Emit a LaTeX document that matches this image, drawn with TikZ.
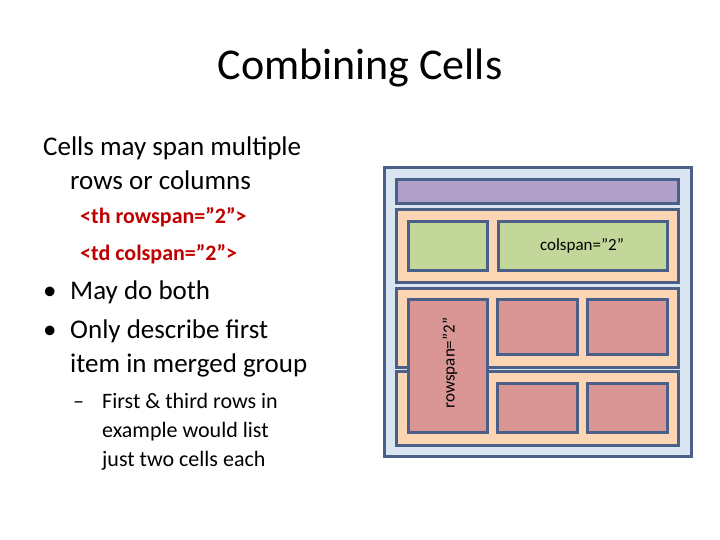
\documentclass[tikz,border=0pt]{standalone}
\usepackage{fontspec}
\setmainfont{Carlito}
\newcommand{\qq}{\symbol{34}}
\begin{document}
\begin{tikzpicture}[x=1pt,y=-1pt,
  cellb/.style={draw=bord,line width=3pt},
  txt/.style={anchor=base west,inner sep=0pt}]
\definecolor{bord}{HTML}{4A6088}
\definecolor{outerf}{HTML}{DAE5F2}
\definecolor{headf}{HTML}{B0A0C8}
\definecolor{rowf}{HTML}{FCD5B4}
\definecolor{greenf}{HTML}{C4D79B}
\definecolor{redf}{HTML}{D99694}
\definecolor{codec}{HTML}{C00000}
\useasboundingbox (0,0) rectangle (720,540);
\node[anchor=base,inner sep=0pt,font=\fontsize{44}{48}\selectfont] (title) at (360,80) {Combining Cells};
\node[txt,font=\fontsize{27}{30}\selectfont] (l1) at (43,156) {Cells may span multiple};
\node[txt,font=\fontsize{27}{30}\selectfont] (l2) at (70,190) {rows or columns};
\node[txt,font=\bfseries\fontsize{22}{26}\selectfont,text=codec] (c1) at (80,224) {<th rowspan=\qq2\qq>};
\node[txt,font=\bfseries\fontsize{22}{26}\selectfont,text=codec] (c2) at (80,260) {<td colspan=\qq2\qq>};
\node[txt,font=\fontsize{27}{30}\selectfont] (b0) at (43,299) {•};
\node[txt,font=\fontsize{27}{30}\selectfont] (b1) at (70,299) {May do both};
\node[txt,font=\fontsize{27}{30}\selectfont] (b0b) at (43,338) {•};
\node[txt,font=\fontsize{27}{30}\selectfont] (b2) at (70,338) {Only describe first};
\node[txt,font=\fontsize{27}{30}\selectfont] (b3) at (70,372) {item in merged group};
\node[txt,font=\fontsize{22}{26}\selectfont] (s0) at (73,408) {–};
\node[txt,font=\fontsize{22}{26}\selectfont] (s1) at (102,408) {First \& third rows in};
\node[txt,font=\fontsize{22}{26}\selectfont] (s2) at (102,437) {example would list};
\node[txt,font=\fontsize{22}{26}\selectfont] (s3) at (102,466) {just two cells each};
% table
\draw[cellb,fill=outerf] (384,168) rectangle (691,456);
\draw[cellb,fill=headf] (396,180) rectangle (678,204);
\draw[cellb,fill=rowf] (396,210) rectangle (678,282);
\draw[cellb,fill=greenf] (408,222) rectangle (487,270);
\draw[cellb,fill=greenf] (498,222) rectangle (667,270);
\node[font=\fontsize{17}{20}\selectfont] (cs) at (582,246) {colspan=\qq2\qq};
\draw[cellb,fill=rowf] (396,288) rectangle (678,367);
\draw[cellb,fill=rowf] (396,371) rectangle (678,445);
\draw[cellb,fill=redf] (408,299) rectangle (487,432);
\node[font=\fontsize{17}{20}\selectfont,rotate=90] (rs) at (450,363) {rowspan=\qq2\qq};
\draw[cellb,fill=redf] (497,299) rectangle (577,354);
\draw[cellb,fill=redf] (587,299) rectangle (667,354);
\draw[cellb,fill=redf] (497,383) rectangle (577,432);
\draw[cellb,fill=redf] (587,383) rectangle (667,432);
\end{tikzpicture}
\end{document}
